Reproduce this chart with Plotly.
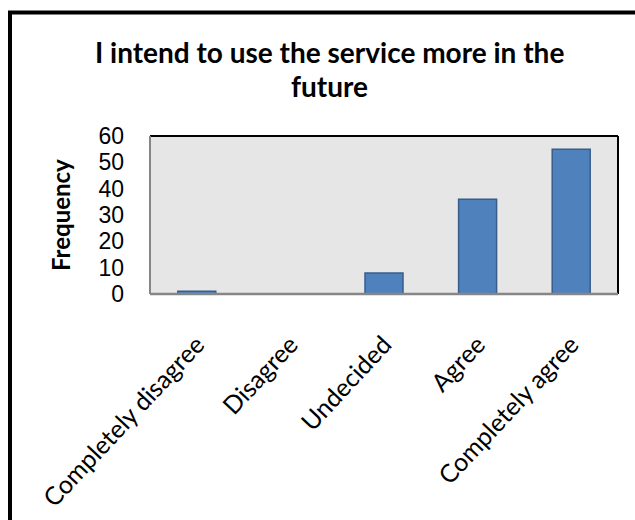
import plotly.graph_objects as go

categories = ["Completely disagree", "Disagree", "Undecided", "Agree", "Completely agree"]
frequency = [1, 0, 8, 36, 55]
y_ticks = [0, 10, 20, 30, 40, 50, 60]
title_lines = ["I intend to use the service more in the", "future"]
y_title = "Frequency"

W, H = 635, 520
L, R, T, B = 150, 17, 136, 226
pw, ph = W - L - R, H - T - B

def px_x(x):
    return (x - L) / pw

def px_y(y):
    return (H - B - y) / ph

fig = go.Figure()
fig.add_trace(go.Bar(
    x=categories, y=frequency,
    marker=dict(color="#4f81bd", line=dict(color="#385d8a", width=1.5)),
))

fig.update_layout(
    width=W, height=H,
    margin=dict(l=L, r=R, t=T, b=B, pad=0, autoexpand=False),
    paper_bgcolor="white",
    plot_bgcolor="#e6e6e6",
    bargap=0.594,
    showlegend=False,
    xaxis=dict(
        tickangle=-47, automargin=False,
        tickfont=dict(family="Lato", size=25, color="black"),
        showgrid=False, showline=False, ticks="",
        ticklabelstandoff=30,
    ),
    yaxis=dict(
        range=[0, 60], tickvals=y_ticks, automargin=False,
        tickfont=dict(family="Liberation Sans", size=23, color="black"),
        showgrid=False, showline=False, ticks="", zeroline=False,
        ticklabelstandoff=25,
    ),
)

# plot-area frame: dark top/right, grey left/bottom
fig.add_shape(type="line", xref="paper", yref="paper", x0=0, x1=1, y0=1, y1=1,
              line=dict(color="black", width=2))
fig.add_shape(type="line", xref="paper", yref="paper", x0=1, x1=1, y0=0, y1=1,
              line=dict(color="black", width=2))
fig.add_shape(type="line", xref="paper", yref="paper", x0=0, x1=0, y0=0, y1=1,
              line=dict(color="#868686", width=2))
fig.add_shape(type="line", xref="paper", yref="paper", x0=0, x1=1, y0=0, y1=0,
              line=dict(color="#868686", width=2.5))

# outer chart frame (left and top edges visible)
fig.add_shape(type="line", xref="paper", yref="paper",
              x0=px_x(10), x1=px_x(10), y0=px_y(H + 5), y1=px_y(12.5),
              line=dict(color="black", width=4))
fig.add_shape(type="line", xref="paper", yref="paper",
              x0=px_x(8), x1=px_x(W + 5), y0=px_y(12.5), y1=px_y(12.5),
              line=dict(color="black", width=4))

# title
fig.add_annotation(text="<b>%s</b>" % title_lines[0], xref="paper", yref="paper",
                   x=px_x(329), y=px_y(52), xanchor="center", yanchor="middle",
                   showarrow=False, font=dict(family="Lato", size=28, color="black"))
fig.add_annotation(text="<b>%s</b>" % title_lines[1], xref="paper", yref="paper",
                   x=px_x(329), y=px_y(86), xanchor="center", yanchor="middle",
                   showarrow=False, font=dict(family="Lato", size=28, color="black"))

# y axis title
fig.add_annotation(text="<b>%s</b>" % y_title, xref="paper", yref="paper",
                   x=px_x(60), y=0.5, xanchor="center", yanchor="middle",
                   textangle=-90, showarrow=False,
                   font=dict(family="Lato", size=24, color="black"))

fig.write_html("out.html")
